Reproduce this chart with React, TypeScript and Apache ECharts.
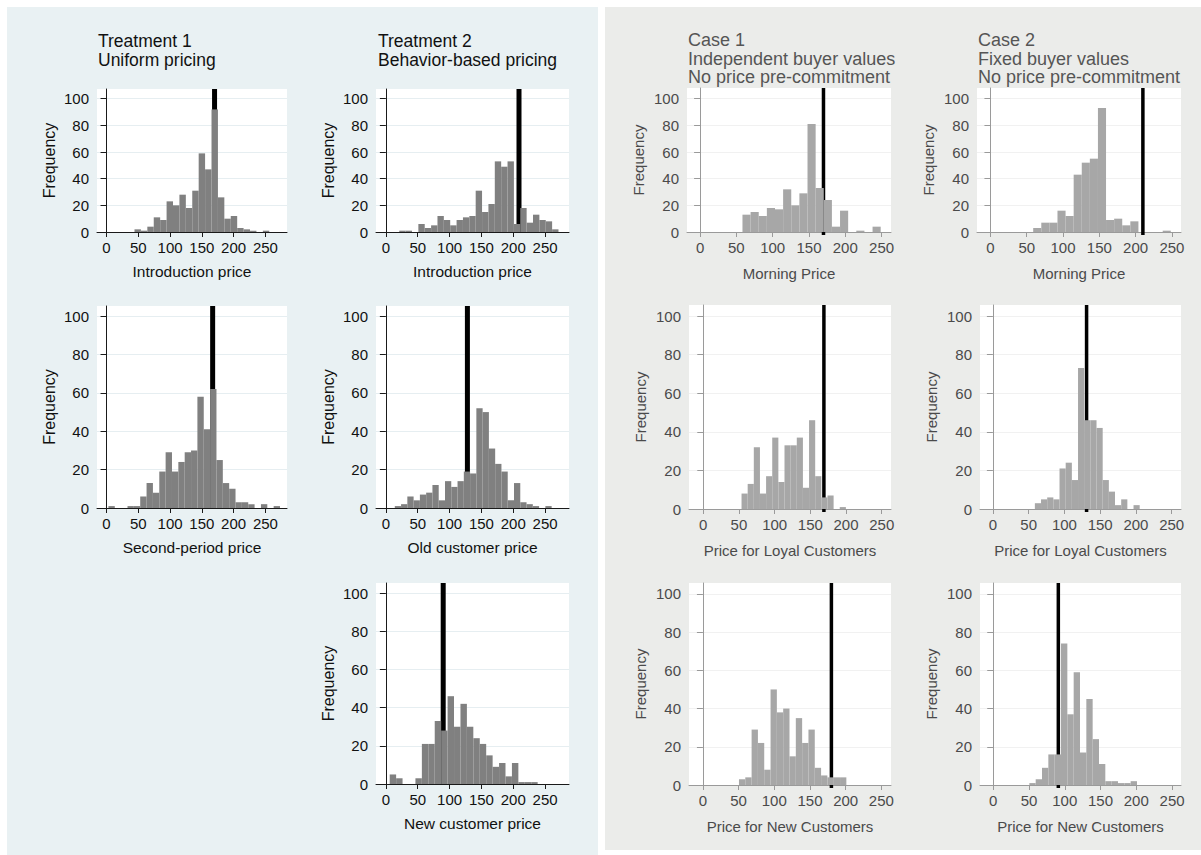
import React, { useEffect, useRef } from "react";
import * as echarts from "echarts";

// ---------- tick labels ----------
const xTickValues = [0, 50, 100, 150, 200, 250];
const yTickValues = [0, 20, 40, 60, 80, 100];

// ---------- Treatment 1: uniform pricing ----------
const t1IntroStart = 44;
const t1IntroWidth = 10.1;
const t1IntroCounts = [2, 1, 4, 11, 9, 23, 20, 28, 18, 31, 59, 47, 92, 26, 10, 12, 3, 2, 1, 0, 1];
const t1IntroLine = 170;

const t1SecondStart = 3;
const t1SecondWidth = 10;
const t1SecondCounts = [1, 0, 0, 1, 1, 6, 13, 8, 19, 29, 19, 24, 29, 30, 58, 41, 62, 25, 13, 10, 3, 3, 2, 0, 2, 0, 1];
const t1SecondLine = 167;

// ---------- Treatment 2: behavior-based pricing ----------
const t2IntroStart = 21;
const t2IntroWidth = 10;
const t2IntroCounts = [1, 1, 0, 6, 3, 5, 12, 9, 5, 9, 11, 12, 31, 15, 21, 53, 49, 53, 6, 18, 7, 13, 9, 8, 2];
const t2IntroLine = 209;

const t2OldStart = 14;
const t2OldWidth = 9.85;
const t2OldCounts = [1, 2, 6, 4, 7, 8, 12, 4, 14, 11, 14, 19, 18, 52, 50, 31, 23, 19, 4, 13, 3, 2, 1, 0, 1];
const t2OldLine = 128;

const t2NewStart = 6;
const t2NewWidth = 10.1;
const t2NewCounts = [5, 3, 0, 0, 3, 21, 21, 33, 28, 46, 30, 42, 30, 24, 21, 15, 9, 11, 4, 11, 1, 1, 1];
const t2NewLine = 90;

// ---------- Case 1: independent buyer values ----------
const c1MorningStart = 58.4;
const c1MorningWidth = 11.2;
const c1MorningCounts = [13, 15, 12, 18, 17, 32, 20, 29, 81, 33, 24, 4, 16, 0, 1, 0, 4];
const c1MorningLine = 170;

const c1LoyalStart = 53.6;
const c1LoyalWidth = 8.6;
const c1LoyalCounts = [8, 13, 32, 8, 17, 37, 14, 33, 33, 37, 11, 46, 17, 6, 7, 0, 1];
const c1LoyalLine = 169;

const c1NewStart = 50.5;
const c1NewWidth = 8.85;
const c1NewCounts = [3, 4, 29, 22, 8, 50, 38, 40, 15, 35, 22, 29, 9, 5, 4, 4, 4];
const c1NewLine = 180;

// ---------- Case 2: fixed buyer values ----------
const c2MorningStart = 58.9;
const c2MorningWidth = 11.15;
const c2MorningCounts = [3, 7, 7, 16, 12, 43, 52, 55, 93, 9, 10, 5, 8, 0, 0, 0, 1];
const c2MorningLine = 210;

const c2LoyalStart = 58.7;
const c2LoyalWidth = 8.62;
const c2LoyalCounts = [3, 5, 6, 5, 21, 24, 15, 73, 46, 46, 42, 15, 9, 2, 5, 0, 2];
const c2LoyalLine = 131;

const c2NewStart = 50.5;
const c2NewWidth = 8.85;
const c2NewCounts = [1, 3, 9, 16, 16, 74, 37, 59, 17, 45, 24, 11, 2, 2, 1, 1, 2];
const c2NewLine = 91;

// ---------- titles ----------
const leftTitles = [
  { text: "Treatment 1\nUniform pricing", left: 98, top: 31 },
  { text: "Treatment 2\nBehavior-based pricing", left: 378, top: 31 },
];
const rightTitles = [
  { text: "Case 1\nIndependent buyer values\nNo price pre-commitment", left: 688, top: 31 },
  { text: "Case 2\nFixed buyer values\nNo price pre-commitment", left: 978, top: 31 },
];

const FONT = "'Liberation Sans', Arial, Helvetica, sans-serif";

type Panel = {
  side: "L" | "R";
  start: number;
  width: number;
  counts: number[];
  line: number;
  xName: string;
  left: number;
  top: number;
  w: number;
  h: number;
  xMin: number;
  xMax: number;
  yMax: number;
};

const panels: Panel[] = [
  { side: "L", start: t1IntroStart, width: t1IntroWidth, counts: t1IntroCounts, line: t1IntroLine, xName: "Introduction price", left: 97, top: 89, w: 190, h: 143, xMin: -15, xMax: 284, yMax: 107.3 },
  { side: "L", start: t2IntroStart, width: t2IntroWidth, counts: t2IntroCounts, line: t2IntroLine, xName: "Introduction price", left: 376, top: 89, w: 193, h: 143, xMin: -15.5, xMax: 287.5, yMax: 107.3 },
  { side: "L", start: t1SecondStart, width: t1SecondWidth, counts: t1SecondCounts, line: t1SecondLine, xName: "Second-period price", left: 97, top: 306, w: 190, h: 202, xMin: -15, xMax: 284, yMax: 105.3 },
  { side: "L", start: t2OldStart, width: t2OldWidth, counts: t2OldCounts, line: t2OldLine, xName: "Old customer price", left: 376, top: 306, w: 193, h: 202, xMin: -15.5, xMax: 287.5, yMax: 105.3 },
  { side: "L", start: t2NewStart, width: t2NewWidth, counts: t2NewCounts, line: t2NewLine, xName: "New customer price", left: 376, top: 583, w: 193, h: 201, xMin: -15.5, xMax: 287.5, yMax: 105.3 },
  { side: "R", start: c1MorningStart, width: c1MorningWidth, counts: c1MorningCounts, line: c1MorningLine, xName: "Morning Price", left: 687, top: 88, w: 204, h: 144, xMin: -18, xMax: 263, yMax: 108 },
  { side: "R", start: c2MorningStart, width: c2MorningWidth, counts: c2MorningCounts, line: c2MorningLine, xName: "Morning Price", left: 977, top: 88, w: 204, h: 144, xMin: -18.5, xMax: 262.5, yMax: 108 },
  { side: "R", start: c1LoyalStart, width: c1LoyalWidth, counts: c1LoyalCounts, line: c1LoyalLine, xName: "Price for Loyal Customers", left: 689, top: 305, w: 202, h: 204, xMin: -20, xMax: 263, yMax: 105.7 },
  { side: "R", start: c2LoyalStart, width: c2LoyalWidth, counts: c2LoyalCounts, line: c2LoyalLine, xName: "Price for Loyal Customers", left: 980, top: 305, w: 201, h: 204, xMin: -18, xMax: 263, yMax: 105.7 },
  { side: "R", start: c1NewStart, width: c1NewWidth, counts: c1NewCounts, line: c1NewLine, xName: "Price for New Customers", left: 689, top: 583, w: 202, h: 202, xMin: -19.5, xMax: 263.5, yMax: 105.7 },
  { side: "R", start: c2NewStart, width: c2NewWidth, counts: c2NewCounts, line: c2NewLine, xName: "Price for New Customers", left: 980, top: 583, w: 201, h: 202, xMin: -18.5, xMax: 262.5, yMax: 105.7 },
];

function buildOption() {
  const grid: any[] = [];
  const xAxis: any[] = [];
  const yAxis: any[] = [];
  const series: any[] = [];

  panels.forEach((p, i) => {
    const L = p.side === "L";
    const axisColor = L ? "#1a1a1a" : "#9a9a9a";
    const textColor = L ? "#111111" : "#4a4a4a";
    const gridColor = L ? "#e6eef1" : "#f1f1f1";
    const barColor = L ? "#808080" : "#a7a7a7";

    grid.push({
      left: p.left,
      top: p.top,
      width: p.w,
      height: p.h,
      show: true,
      backgroundColor: "#ffffff",
      borderWidth: 0,
      containLabel: false,
    });

    xAxis.push({
      type: "value",
      gridIndex: i,
      min: p.xMin,
      max: p.xMax,
      name: p.xName,
      nameLocation: "middle",
      nameGap: L ? 31 : 34,
      nameTextStyle: { fontFamily: FONT, fontSize: L ? 15.5 : 15, color: textColor },
      axisLine: { show: true, onZero: false, lineStyle: { color: axisColor, width: 1 } },
      axisTick: { show: true, length: 5, customValues: xTickValues, lineStyle: { color: axisColor } },
      axisLabel: { customValues: xTickValues, margin: 8, fontFamily: FONT, fontSize: 15, color: textColor },
      splitLine: { show: false },
    });

    yAxis.push({
      type: "value",
      gridIndex: i,
      min: 0,
      max: p.yMax,
      name: "Frequency",
      nameLocation: "middle",
      nameRotate: 90,
      nameGap: L ? 40 : 41,
      nameTextStyle: { fontFamily: FONT, fontSize: L ? 16 : 15, color: textColor },
      axisLine: { show: true, lineStyle: { color: axisColor, width: 1 } },
      axisTick: { show: true, length: 6, customValues: yTickValues, lineStyle: { color: axisColor } },
      axisLabel: { customValues: yTickValues, margin: 8, fontFamily: FONT, fontSize: 15, color: textColor },
      splitLine: { show: true, lineStyle: { color: gridColor, width: 1 } },
    });

    const binData = p.counts.map((c, k) => [p.start + k * p.width, p.start + (k + 1) * p.width, c]);

    // reference line (drawn below the bars)
    series.push({
      type: "custom",
      xAxisIndex: i,
      yAxisIndex: i,
      z: 2,
      silent: true,
      data: [[p.line]],
      encode: { x: 0 },
      renderItem: (params: any, api: any) => {
        const v = api.value(0);
        const top = api.coord([v, p.yMax]);
        const bot = api.coord([v, 0]);
        return {
          type: "line",
          shape: { x1: top[0], y1: top[1], x2: bot[0], y2: bot[1] + (L ? 0 : 3) },
          style: { stroke: "#000000", lineWidth: L ? 5 : 3.5 },
        };
      },
    });

    // histogram bars
    series.push({
      type: "custom",
      xAxisIndex: i,
      yAxisIndex: i,
      z: 3,
      silent: true,
      data: binData,
      encode: { x: [0, 1], y: 2 },
      renderItem: (params: any, api: any) => {
        const c = api.value(2);
        if (!c) return null;
        const p0 = api.coord([api.value(0), c]);
        const p1 = api.coord([api.value(1), 0]);
        return {
          type: "rect",
          shape: { x: p0[0], y: p0[1], width: p1[0] - p0[0], height: p1[1] - p0[1] },
          style: { fill: barColor },
        };
      },
    });
  });

  const title: any[] = [];
  leftTitles.forEach((t) =>
    title.push({
      text: t.text,
      left: t.left,
      top: t.top,
      padding: 0,
      textStyle: { fontFamily: FONT, fontSize: 17.5, fontWeight: "normal", color: "#111111", lineHeight: 19 },
    })
  );
  rightTitles.forEach((t) =>
    title.push({
      text: t.text,
      left: t.left,
      top: t.top,
      padding: 0,
      textStyle: { fontFamily: FONT, fontSize: 18, fontWeight: "normal", color: "#555555", lineHeight: 18.5 },
    })
  );

  return {
    animation: false,
    backgroundColor: "#ffffff",
    title,
    graphic: [
      { type: "rect", z: -10, shape: { x: 7, y: 7, width: 591, height: 848 }, style: { fill: "#e9f1f3" } },
      { type: "rect", z: -10, shape: { x: 605, y: 7, width: 596, height: 843 }, style: { fill: "#ebecea" } },
    ],
    grid,
    xAxis,
    yAxis,
    series,
  };
}

export default function App() {
  const ref = useRef<HTMLDivElement>(null);
  useEffect(() => {
    if (!ref.current) return;
    const chart = echarts.init(ref.current, undefined, { renderer: "svg" });
    chart.setOption(buildOption() as any);
    return () => chart.dispose();
  }, []);
  return (
    <div
      ref={ref}
      style={{ position: "fixed", left: 0, top: 0, width: 1201, height: 855 }}
    />
  );
}
